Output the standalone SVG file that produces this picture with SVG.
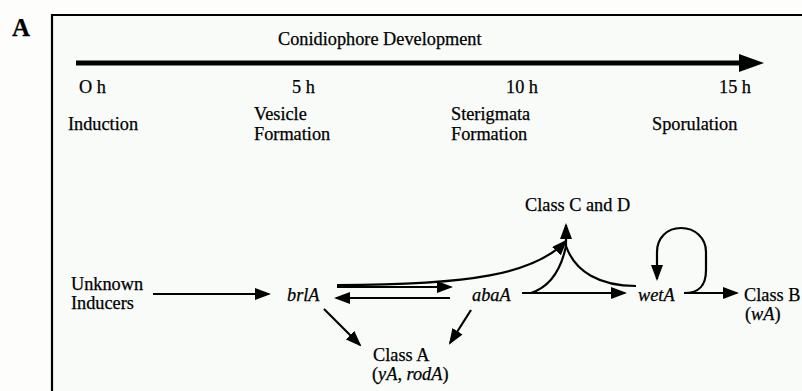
<svg xmlns="http://www.w3.org/2000/svg" width="802" height="391" viewBox="0 0 802 391">
<style>
text{font-family:"Liberation Serif","Times New Roman",serif;font-size:18.3px;fill:#000;stroke:#000;stroke-width:0.25}
.it{font-style:italic}
.c{fill:none;stroke:#000;stroke-width:2.2}
</style>
<defs>
<marker id="ah" viewBox="0 0 16 12" refX="14" refY="6" markerWidth="16" markerHeight="12" markerUnits="userSpaceOnUse" orient="auto">
<path d="M0,0 L16,6 L0,12 z" fill="#000"/>
</marker>
</defs>
<rect width="802" height="391" fill="#fdfdfc"/>
<rect x="52" y="15" width="760" height="390" fill="#f9fbf8"/>
<path d="M52,391 L52,15 L802,15" fill="none" stroke="#000" stroke-width="2.2"/>
<text x="12" y="36" style="font-size:25px;font-weight:bold">A</text>

<g id="timeline">
<text x="278" y="45">Conidiophore Development</text>
<line x1="76" y1="63" x2="744" y2="63" stroke="#000" stroke-width="5"/>
<polygon points="739,54 764,63 739,72" fill="#000"/>
<text x="79" y="93">O h</text>
<text x="292" y="93">5 h</text>
<text x="506" y="93">10 h</text>
<text x="719" y="93">15 h</text>
<text x="68" y="130">Induction</text>
<text x="254" y="120">Vesicle</text>
<text x="254" y="140">Formation</text>
<text x="451" y="120">Sterigmata</text>
<text x="451" y="140">Formation</text>
<text x="652" y="130">Sporulation</text>
</g>

<g id="inducers"><text x="71" y="290">Unknown</text><text x="71" y="309">Inducers</text></g>
<g id="brlA"><text class="it" x="287" y="301">brlA</text></g>
<g id="abaA"><text class="it" x="472" y="301">abaA</text></g>
<g id="wetA"><text class="it" x="638" y="301">wetA</text></g>
<g id="classCD"><text x="525" y="211">Class C and D</text></g>
<g id="classA"><text x="373" y="361">Class A</text><text x="372" y="380">(<tspan class="it">yA</tspan>, <tspan class="it">rodA</tspan>)</text></g>
<g id="classB"><text x="744" y="301">Class B</text><text x="745" y="320">(<tspan class="it">wA</tspan>)</text></g>

<g id="connectors">
<line class="c" x1="153" y1="294" x2="269" y2="294" marker-end="url(#ah)"/>
<line class="c" x1="337" y1="287" x2="451" y2="287" marker-end="url(#ah)"/>
<line class="c" x1="450" y1="298" x2="336" y2="298" marker-end="url(#ah)"/>
<path class="c" d="M337,285 C470,285 535,274 566,241" marker-end="url(#ah)"/>
<line class="c" x1="324" y1="309" x2="360" y2="345" marker-end="url(#ah)"/>
<line class="c" x1="471" y1="310" x2="450" y2="343" marker-end="url(#ah)"/>
<line class="c" x1="522" y1="293" x2="625" y2="293" marker-end="url(#ah)"/>
<path class="c" d="M531,293 C549,287 561,270 566,246"/>
<path class="c" d="M566,246 C575,272 600,286 636,286"/>
<line class="c" x1="566" y1="246" x2="566" y2="225" marker-end="url(#ah)"/>
<path class="c" d="M684,293 C700,293 706,285 706,270 L706,252 C706,238 695,228 681,228 C667,228 657,238 657,252 L657,279" marker-end="url(#ah)"/>
<line class="c" x1="684" y1="293" x2="737" y2="293" marker-end="url(#ah)"/>
</g>
</svg>
